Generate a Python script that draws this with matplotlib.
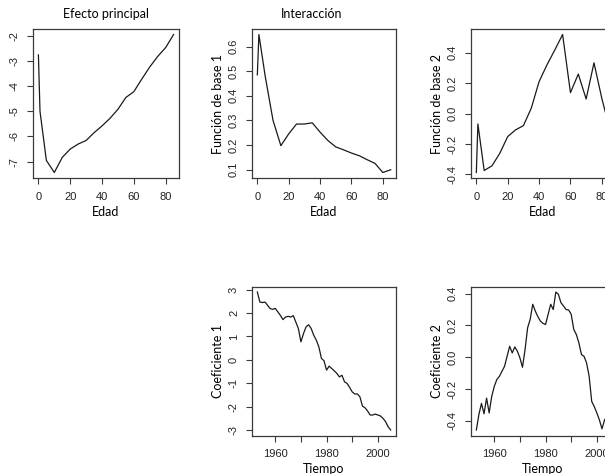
import matplotlib
matplotlib.use("Agg")
import matplotlib.pyplot as plt

# ---------------- data ----------------
edad = [0, 1, 5, 10, 15, 20, 25, 30, 35, 40, 45, 50, 55, 60, 65, 70, 75, 80, 85]
efecto_principal = [-2.76, -5.0, -6.95, -7.43, -6.83, -6.50, -6.30, -6.16, -5.85, -5.58,
                    -5.28, -4.92, -4.45, -4.22, -3.72, -3.24, -2.82, -2.47, -1.95]
base1 = [0.485, 0.649, 0.48, 0.30, 0.197, 0.245, 0.285, 0.285, 0.29, 0.252,
         0.218, 0.192, 0.18, 0.167, 0.156, 0.14, 0.125, 0.088, 0.099]
base2 = [-0.387, -0.068, -0.374, -0.343, -0.26, -0.151, -0.107, -0.079, 0.035, 0.21,
         0.32, 0.418, 0.52, 0.138, 0.26, 0.096, 0.334, 0.10, -0.10]

tiempo = list(range(1953, 2006))
coef1 = [2.9, 2.47, 2.45, 2.47, 2.33, 2.19, 2.16, 2.2, 2.05, 1.9,
         1.72, 1.83, 1.86, 1.83, 1.89, 1.62, 1.34, 0.77, 1.12, 1.41,
         1.5, 1.34, 1.05, 0.84, 0.55, 0.06, -0.04, -0.44, -0.27, -0.37,
         -0.47, -0.58, -0.73, -0.66, -0.94, -1.01, -1.18, -1.37, -1.46, -1.46,
         -1.58, -1.98, -2.05, -2.19, -2.36, -2.36, -2.32, -2.36, -2.4, -2.5,
         -2.64, -2.86, -3.0]
coef2 = [-0.457, -0.36, -0.29, -0.355, -0.257, -0.35, -0.246, -0.183, -0.14, -0.12,
         -0.088, -0.057, 0.006, 0.069, 0.027, 0.065, 0.038, -0.004, -0.063, 0.048,
         0.185, 0.238, 0.333, 0.29, 0.255, 0.227, 0.213, 0.206, 0.27, 0.333,
         0.30, 0.41, 0.396, 0.343, 0.322, 0.30, 0.297, 0.27, 0.175, 0.143,
         0.09, 0.017, 0.006, -0.036, -0.12, -0.278, -0.31, -0.35, -0.394, -0.45,
         -0.394, -0.37, -0.38]

edad_ticks = [0, 20, 40, 60, 80]
tiempo_ticks = [1960, 1970, 1980, 1990, 2000]
tiempo_ticklabels = ["1960", "", "1980", "", "2000"]

# ---------------- style ----------------
W, H = 605, 474
fig = plt.figure(figsize=(W / 100, H / 100), dpi=100)

LABEL_FONT = ["Lato", "DejaVu Sans"]
TICK_FONT = ["Liberation Sans", "DejaVu Sans"]
LINE_COLOR = "#1a1a1a"
BOX_COLOR = "#3a3a3a"


def px_axes(x0, x1, y0, y1):
    return fig.add_axes([x0 / W, 1 - y1 / H, (x1 - x0) / W, (y1 - y0) / H])


def style(ax, x, y, xticks, xticklabels, yticks, yticklabels, xlabel, ylabel):
    ax.plot(x, y, color=LINE_COLOR, lw=0.9)
    ax.margins(x=0.04, y=0.04)
    ax.set_xticks(xticks)
    ax.set_xticklabels(xticklabels, fontfamily=TICK_FONT, fontsize=8)
    ax.set_yticks(yticks)
    ax.set_yticklabels(yticklabels, fontfamily=TICK_FONT, fontsize=8,
                       rotation=90, va="center")
    ax.tick_params(direction="out", length=4.4, width=0.8, color=BOX_COLOR,
                   labelcolor="#222222")
    ax.tick_params(axis="x", pad=5.5)
    ax.tick_params(axis="y", pad=5.0)
    for s in ax.spines.values():
        s.set_color(BOX_COLOR)
        s.set_linewidth(0.9)
    if xlabel:
        ax.set_xlabel(xlabel, fontfamily=LABEL_FONT, fontsize=9, va="center")
        ax.xaxis.set_label_coords(0.5, -33.5 / 149)
    if ylabel:
        ax.set_ylabel(ylabel, fontfamily=LABEL_FONT, fontsize=9, va="center")
        ax.yaxis.set_label_coords(-34 / 145, 0.5)


cols = [(33, 179), (252, 396), (471, 615)]
row_top = (29, 178)
row_bot = (286.5, 435.5)

# Efecto principal
ax1 = px_axes(cols[0][0], cols[0][1], *row_top)
style(ax1, edad, efecto_principal, edad_ticks, [str(t) for t in edad_ticks],
      [-7, -6, -5, -4, -3, -2], ["-7", "-6", "-5", "-4", "-3", "-2"], "Edad", None)
ax1.text(0.5, 1 + 15 / 149, "Efecto principal", transform=ax1.transAxes,
         ha="center", va="center", fontfamily=LABEL_FONT, fontsize=9)

# Funcion de base 1
ax2 = px_axes(cols[1][0], cols[1][1], *row_top)
style(ax2, edad, base1, edad_ticks, [str(t) for t in edad_ticks],
      [0.1, 0.2, 0.3, 0.4, 0.5, 0.6], ["0.1", "0.2", "0.3", "0.4", "0.5", "0.6"],
      "Edad", "Función de base 1")

# Funcion de base 2
ax3 = px_axes(cols[2][0], cols[2][1], *row_top)
style(ax3, edad, base2, edad_ticks, [str(t) for t in edad_ticks],
      [-0.4, -0.2, 0.0, 0.2, 0.4], ["-0.4", "-0.2", "0.0", "0.2", "0.4"],
      "Edad", "Función de base 2")

fig.text(311.7 / W, 1 - 14 / H, "Interacción", ha="center", va="center",
         fontfamily=LABEL_FONT, fontsize=9)

# Coeficiente 1
ax4 = px_axes(cols[1][0], cols[1][1], *row_bot)
style(ax4, tiempo, coef1, tiempo_ticks, tiempo_ticklabels,
      [-3, -2, -1, 0, 1, 2, 3], ["-3", "-2", "-1", "0", "1", "2", "3"],
      "Tiempo", "Coeficiente 1")

# Coeficiente 2
ax5 = px_axes(cols[2][0], cols[2][1], *row_bot)
style(ax5, tiempo, coef2, tiempo_ticks, tiempo_ticklabels,
      [-0.4, -0.2, 0.0, 0.2, 0.4], ["-0.4", "-0.2", "0.0", "0.2", "0.4"],
      "Tiempo", "Coeficiente 2")

fig.savefig("out.png", dpi=100)
